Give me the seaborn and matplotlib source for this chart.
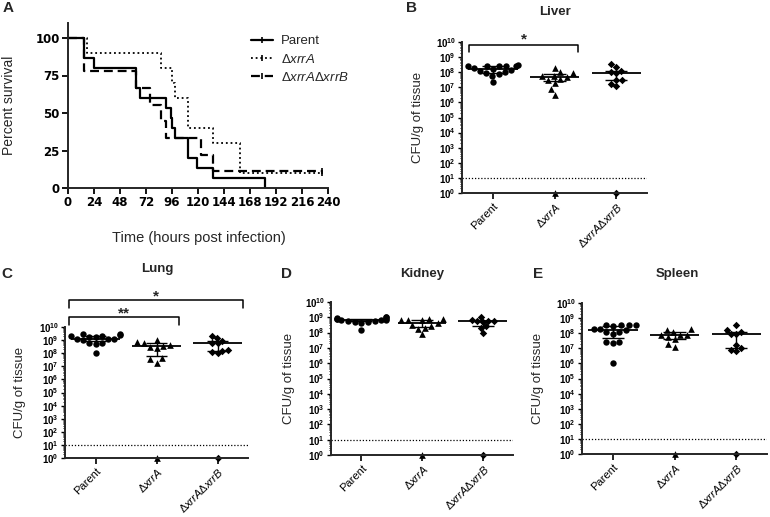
import numpy as np
import pandas as pd
import matplotlib
matplotlib.use("Agg")
import matplotlib.pyplot as plt
import seaborn as sns
from matplotlib.lines import Line2D

sns.set_theme(style="ticks")
plt.rcParams["font.family"] = ["Liberation Sans", "DejaVu Sans"]
plt.rcParams["mathtext.fontset"] = "custom"
plt.rcParams["mathtext.rm"] = "Liberation Sans"
plt.rcParams["mathtext.it"] = "Liberation Sans:italic"
plt.rcParams["mathtext.bf"] = "Liberation Sans:bold"

# ---------------- data ----------------
# Panel A: Kaplan-Meier survival (hours, percent)
parent_times = [0, 15, 24, 63, 66, 90, 95, 96, 98.5, 111, 119.5, 134, 182]
parent_surv = [100, 86.7, 80, 66.7, 60, 53.3, 46.7, 40, 33.3, 20, 13.3, 6.7, 0]
xrra_times = [0, 17.5, 86, 96, 98.5, 111, 134, 158.5, 234]
xrra_surv = [100, 90, 80, 70, 60, 40, 30, 10, 10]
dbl_times = [0, 14.8, 63, 75.4, 86, 90, 123, 134, 234]
dbl_surv = [100, 77.8, 66.7, 55.6, 44.4, 33.3, 22.2, 11.1, 11.1]
censor_time = 234
survival_ticks_x = list(range(0, 241, 24))
survival_ticks_y = [0, 25, 50, 75, 100]

group_labels = ["Parent", r"$\Delta\mathit{xrrA}$", r"$\Delta\mathit{xrrA}\Delta\mathit{xrrB}$"]
legend_labels = ["Parent", r"$\Delta\mathit{xrrA}$", r"$\Delta\mathit{xrrA}\Delta\mathit{xrrB}$"]

# Organ burdens, log10 CFU/g of tissue
liver_parent = [8.45, 8.44, 8.43, 8.42, 8.40, 8.38, 8.25, 8.20, 8.15, 8.10, 8.00, 7.95, 7.85, 7.75, 7.33]
liver_xrra = [8.30, 8.00, 7.95, 7.75, 7.72, 7.70, 7.55, 7.50, 7.30, 6.87, 6.49]
liver_dbl = [8.52, 8.37, 8.08, 8.03, 7.97, 7.48, 7.48, 7.20, 7.09]

lung_parent = [9.30, 9.25, 9.50, 9.40, 9.45, 9.25, 9.28, 9.10, 9.05, 9.10, 9.00, 8.75, 8.80, 8.70, 8.05]
lung_xrra = [8.97, 8.85, 8.80, 8.60, 8.55, 8.50, 8.40, 7.60, 7.52, 7.27]
lung_dbl = [9.32, 9.15, 8.95, 8.77, 8.75, 8.27, 8.20, 8.10, 8.02]

kidney_parent = [8.95, 8.92, 8.90, 8.88, 9.00, 9.02, 8.85, 8.83, 8.80, 8.78, 8.75, 8.72, 8.70, 8.65, 8.18]
kidney_xrra = [8.88, 8.88, 8.85, 8.85, 8.85, 8.60, 8.50, 8.45, 8.30, 8.25, 7.90]
kidney_dbl = [9.05, 8.82, 8.78, 8.75, 8.74, 8.72, 8.40, 8.30, 7.97]

spleen_parent = [8.51, 8.30, 8.25, 8.55, 8.55, 8.45, 8.51, 7.95, 8.18, 8.10, 8.05, 7.45, 7.41, 7.38, 6.03]
spleen_xrra = [8.22, 8.11, 7.90, 7.78, 7.90, 7.90, 8.25, 7.60, 7.30, 7.10]
spleen_dbl = [8.55, 8.22, 8.08, 7.95, 7.93, 7.22, 7.00, 6.89, 6.85]

# animals with no recovered CFU (plotted at 10^0), per group
undetected = [0, 1, 1]
detection_limit_log10 = 1

W, H = 770, 517
fig = plt.figure(figsize=(W / 100, H / 100), dpi=100)


def px_axes(l, r, t, b):
    return fig.add_axes([l / W, 1 - b / H, (r - l) / W, (b - t) / H])


tickfont = dict(family="DejaVu Sans", weight="bold", size=8.5)

# ---------------- Panel A ----------------
axA = px_axes(68, 328, 23, 188)
series = [
    (parent_times, parent_surv, "-", 1.6),
    (xrra_times, xrra_surv, (0, (1, 1.6)), 1.3),
    (dbl_times, dbl_surv, (0, (4, 2.2)), 1.6),
]
for t, s, ls, lw in series:
    sns.lineplot(x=t, y=s, ax=axA, color="black", drawstyle="steps-post",
                 linestyle=ls, linewidth=lw, errorbar=None)
axA.plot([censor_time], [xrra_surv[-1]], marker="|", color="black", ms=5, mew=1.2)
axA.plot([censor_time], [dbl_surv[-1]], marker="|", color="black", ms=5, mew=1.2)
axA.set_xlim(0, 240)
axA.set_ylim(0, 110)
axA.set_xticks(survival_ticks_x)
axA.set_yticks(survival_ticks_y)
axA.set_xticklabels([str(v) for v in survival_ticks_x], fontdict=tickfont)
axA.set_yticklabels([str(v) for v in survival_ticks_y], fontdict=tickfont)
for sp in ["top", "right"]:
    axA.spines[sp].set_visible(False)
for sp in ["left", "bottom"]:
    axA.spines[sp].set_linewidth(1.4)
axA.tick_params(direction="out", length=4, width=1.3, pad=2, colors="black")
axA.set_ylabel("Percent survival", fontsize=10)
axA.yaxis.set_label_coords(-52 / 260, 0.5)
fig.text(199 / W, 1 - 238 / H, "Time (hours post infection)", fontsize=10.5,
         ha="center", va="center")
handles = [
    Line2D([], [], color="black", ls="-", lw=1.6, marker="|", ms=5, mew=1.2),
    Line2D([], [], color="black", ls=(0, (1, 1.6)), lw=1.3, marker="|", ms=5, mew=1.2),
    Line2D([], [], color="black", ls=(0, (4, 2.2)), lw=1.6, marker="|", ms=5, mew=1.2),
]
axA.legend(handles, legend_labels, loc="upper left", bbox_to_anchor=(251 / W, 1 - 35 / H),
           bbox_transform=fig.transFigure, frameon=False, fontsize=9.5, numpoints=1,
           handlelength=1.7, handletextpad=0.55, labelspacing=0.4, borderpad=0,
           borderaxespad=0)

# ---------------- organ panels ----------------
markers = ["o", "^", "D"]
msizes = [4.6, 4.8, 3.8]


def organ_panel(ax, arrays, ylabel_off):
    rows = []
    for gi, vals in enumerate(arrays):
        for v in vals:
            rows.append((gi, v))
        for _ in range(undetected[gi]):
            rows.append((gi, 0.0))
    df = pd.DataFrame(rows, columns=["grp", "log10cfu"])
    df["grp"] = df["grp"].astype(str)
    order = ["0", "1", "2"]
    for gi in range(3):
        sub = df[df["grp"] == str(gi)]
        sns.swarmplot(data=sub, x="grp", y="log10cfu", order=order, ax=ax,
                      color="black", marker=markers[gi], size=msizes[gi],
                      linewidth=0, zorder=2)
    for coll in ax.collections:
        coll.set_clip_on(False)
    for gi, vals in enumerate(arrays):
        med = np.median(vals)
        q1, q3 = np.percentile(vals, [25, 75])
        ax.hlines(med, gi - 0.4, gi + 0.4, color="black", lw=1.3, zorder=3)
        ax.hlines([q1, q3], gi - 0.18, gi + 0.18, color="black", lw=1.0, zorder=3)
        ax.vlines(gi, q1, q3, color="black", lw=1.0, zorder=3)
    ax.axhline(detection_limit_log10, color="black", ls=(0, (1, 1.5)), lw=0.9, zorder=1)
    ax.set_xlim(-0.5, 2.5)
    ax.set_ylim(0, 10)
    ax.set_xticks([0, 1, 2])
    ax.set_xticklabels(group_labels, rotation=45, ha="right", rotation_mode="anchor",
                       fontsize=8)
    ax.set_yticks(range(0, 11))
    ax.set_yticklabels([r"$\mathbf{10^{%d}}$" % n for n in range(0, 11)], fontsize=7)
    ax.set_yticks([n + np.log10(k) for n in range(10) for k in range(2, 10)], minor=True)
    for sp in ["top", "right"]:
        ax.spines[sp].set_visible(False)
    for sp in ["left", "bottom"]:
        ax.spines[sp].set_linewidth(1.4)
    ax.tick_params(axis="y", which="major", length=3, width=1.0, pad=1.5, colors="black")
    ax.tick_params(axis="y", which="minor", length=1.5, width=0.6, colors="black")
    ax.tick_params(axis="x", which="major", length=4, width=1.2, pad=1.5, colors="black")
    ax.set_xlabel("")
    ax.set_ylabel("CFU/g of tissue", fontsize=9.5)
    bb = ax.get_position()
    ax.yaxis.set_label_coords(-ylabel_off / (bb.width * W), 0.5)


def bracket(ax, x0, x1, y, leg, label, ystar):
    ax.plot([x0, x0, x1, x1], [y - leg, y, y, y - leg], color="black", lw=1.1,
            clip_on=False)
    ax.text((x0 + x1) / 2, ystar, label, ha="center", va="center", fontsize=11,
            fontweight="bold", clip_on=False)


axB = px_axes(462, 647, 42, 193)
organ_panel(axB, [liver_parent, liver_xrra, liver_dbl], 38)
bracket(axB, -0.38, 1.38, 9.8, 0.45, "*", 10.2)

axC = px_axes(65, 248, 327, 458)
organ_panel(axC, [lung_parent, lung_xrra, lung_dbl], 39)
bracket(axC, -0.43, 1.37, 10.75, 0.6, "**", 11.05)
bracket(axC, -0.43, 2.41, 12.03, 0.55, "*", 12.35)

axD = px_axes(331, 513, 302, 455)
organ_panel(axD, [kidney_parent, kidney_xrra, kidney_dbl], 36)

axE = px_axes(582, 767, 303, 454)
organ_panel(axE, [spleen_parent, spleen_xrra, spleen_dbl], 38)

# titles and panel letters
for x, y, s in [(555, 12, "Liver"), (157, 269, "Lung"), (422, 274, "Kidney"),
                (677, 274, "Spleen")]:
    fig.text(x / W, 1 - y / H, s, ha="center", va="center", fontsize=9.5,
             fontweight="bold")
for x, y, s in [(8, 8, "A"), (412, 8, "B"), (7, 274, "C"), (287, 274, "D"),
                (538, 274, "E")]:
    fig.text(x / W, 1 - y / H, s, ha="center", va="center", fontsize=11,
             fontweight="bold")

fig.savefig("out.png", dpi=100)
